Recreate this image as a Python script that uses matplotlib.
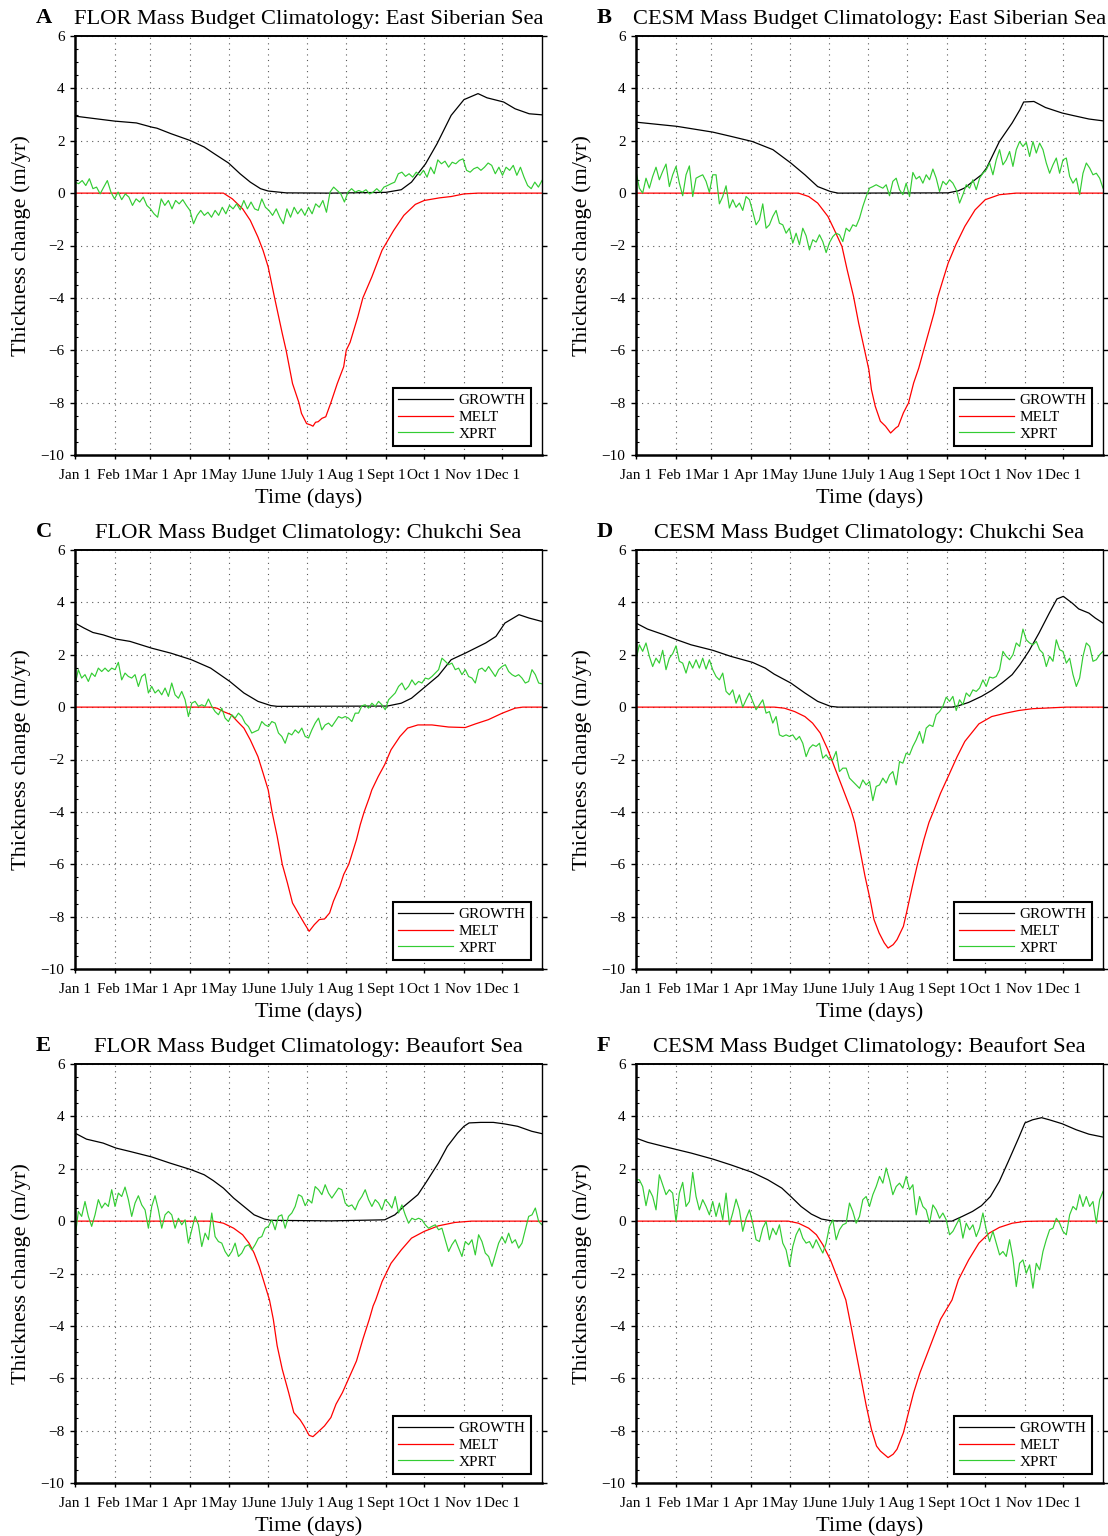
import numpy as np
import matplotlib
matplotlib.use("Agg")
import matplotlib.pyplot as plt
from matplotlib.ticker import MultipleLocator

plt.rcParams['font.family'] = ['Liberation Serif', 'DejaVu Serif']

# ---------------- data ----------------
MONTH_DAYS = [0, 31, 59, 90, 120, 151, 181, 212, 243, 273, 304, 334]
MONTH_LABELS = ['Jan 1', 'Feb 1', 'Mar 1', 'Apr 1', 'May 1', 'June 1', 'July 1',
                'Aug 1', 'Sept 1', 'Oct 1', 'Nov 1', 'Dec 1']
PANEL_LETTERS = ['A', 'B', 'C', 'D', 'E', 'F']
PANEL_TITLES = ['FLOR Mass Budget Climatology: East Siberian Sea',
                'CESM Mass Budget Climatology: East Siberian Sea',
                'FLOR Mass Budget Climatology: Chukchi Sea',
                'CESM Mass Budget Climatology: Chukchi Sea',
                'FLOR Mass Budget Climatology: Beaufort Sea',
                'CESM Mass Budget Climatology: Beaufort Sea']
SERIES_NAMES = ['GROWTH', 'MELT', 'XPRT']

# Panel A: FLOR East Siberian Sea
A_GROWTH_DAY = [0, 31, 48, 60, 64, 75, 90, 101, 109, 120, 129, 137, 145, 151, 165, 200, 243, 255,
                263, 274, 283, 294, 304, 315, 322, 335, 344, 355, 365]
A_GROWTH = [2.94, 2.75, 2.68, 2.52, 2.48, 2.27, 2.01, 1.76, 1.50, 1.15, 0.74, 0.42, 0.17, 0.08, 0.01,
            0.0, 0.03, 0.13, 0.42, 1.12, 1.89, 2.97, 3.57, 3.80, 3.64, 3.48, 3.22, 3.03, 2.99]
A_MELT_DAY = [0, 116, 123, 131, 137, 143, 147, 151, 156, 162, 165, 170, 175, 177, 181, 184, 186, 188,
              190, 193, 196, 200, 205, 210, 212, 215, 221, 225, 232, 240, 249, 257, 266, 273, 285,
              294, 304, 315, 365]
A_MELT = [0, 0, -0.22, -0.60, -1.04, -1.68, -2.19, -2.82, -4.0, -5.36, -6.0, -7.27, -8.0, -8.41, -8.8,
          -8.85, -8.9, -8.75, -8.73, -8.6, -8.54, -8.0, -7.27, -6.63, -6.0, -5.7, -4.73, -4.0, -3.2,
          -2.18, -1.43, -0.85, -0.43, -0.28, -0.18, -0.13, -0.03, 0, 0]
A_XPRT = [0.42, 0.36, 0.48, 0.29, 0.55, 0.17, 0.23, -0.03, 0.23, 0.48,
          0.04, -0.22, 0.04, -0.25, -0.03, -0.15, -0.47, -0.22, -0.34, -0.15,
          -0.47, -0.60, -0.79, -0.92, -0.22, -0.47, -0.28, -0.60, -0.28, -0.41,
          -0.25, -0.47, -0.66, -1.17, -0.85, -0.66, -0.85, -0.73, -0.92, -0.66,
          -0.85, -0.54, -0.79, -0.47, -0.60, -0.41, -0.64, -0.28, -0.60, -0.34,
          -0.60, -0.66, -0.22, -0.54, -0.66, -0.85, -0.60, -0.92, -1.17, -0.60,
          -0.92, -0.54, -0.79, -0.60, -0.85, -0.54, -0.79, -0.41, -0.54, -0.28,
          -0.73, 0.04, 0.23, 0.10, -0.03, -0.34, 0.04, 0.17, 0.04, 0.10,
          0.04, 0.13, -0.03, 0.04, 0.17, 0.04, 0.23, 0.29, 0.36, 0.42,
          0.74, 0.80, 0.64, 0.74, 0.61, 0.80, 0.68, 0.87, 0.61, 0.99,
          0.74, 1.27, 1.12, 1.22, 0.99, 1.18, 1.12, 1.25, 1.31, 0.87,
          0.80, 0.93, 0.99, 0.87, 0.99, 1.15, 1.06, 0.74, 0.99, 0.68,
          0.99, 0.87, 1.06, 0.68, 0.99, 0.61, 0.29, 0.17, 0.42, 0.23,
          0.48]

# Panel B: CESM East Siberian Sea
B_GROWTH_DAY = [0, 32, 60, 74, 91, 107, 121, 132, 142, 152, 158, 244, 252, 257, 260, 270, 274, 284,
                294, 300, 303, 311, 320, 333, 341, 354, 365]
B_GROWTH = [2.71, 2.55, 2.33, 2.17, 1.97, 1.66, 1.15, 0.70, 0.25, 0.06, 0.0, 0.01, 0.09, 0.20, 0.32,
            0.70, 0.96, 1.97, 2.68, 3.18, 3.48, 3.50, 3.27, 3.06, 2.97, 2.83, 2.76]
B_MELT_DAY = [0, 127, 135, 142, 150, 155, 161, 165, 170, 174, 178, 182, 184, 187, 191, 195, 199, 203,
              205, 209, 213, 217, 221, 225, 229, 233, 236, 240, 244, 250, 257, 265, 273, 284, 297, 365]
B_MELT = [0, 0, -0.13, -0.38, -0.89, -1.40, -2.04, -2.92, -3.94, -4.96, -5.85, -6.74, -7.5, -8.14,
          -8.71, -8.9, -9.16, -8.97, -8.9, -8.39, -8.01, -7.25, -6.68, -5.97, -5.27, -4.57, -3.94,
          -3.30, -2.67, -1.97, -1.27, -0.64, -0.25, -0.06, 0, 0]
B_XPRT = [0.83, 0.19, 0.00, 0.57, 0.19, 0.64, 0.99, 0.51, 0.83, 1.11,
          0.25, 0.70, 1.02, 0.38, -0.10, 0.70, 1.04, -0.13, 0.57, 0.64,
          0.70, 0.45, 0.03, 0.70, 0.70, -0.41, -0.13, 0.28, -0.57,
          -0.25, -0.54, -0.38, -0.66, -0.13, -0.25, -0.70, -1.21, -1.02, -0.41,
          -1.34, -1.21, -0.89, -0.66, -1.15, -1.21, -1.53, -1.34, -1.91, -1.53,
          -1.97, -1.34, -1.63, -2.17, -1.78, -1.87, -1.59, -1.85, -2.27, -1.89,
          -1.66, -1.53, -1.59, -1.85, -1.34, -1.46, -1.21, -1.27, -0.96, -0.51,
          -0.13, 0.19, 0.25, 0.32, 0.25, 0.19, 0.32, -0.10, 0.45, 0.57,
          0.13, -0.06, 0.38, -0.13, 0.79, 0.54, 0.64, 0.38, 0.70, 0.51,
          0.92, 0.57, 0.06, 0.45, 0.32, 0.51, 0.38, 0.13, -0.38, -0.06,
          0.32, 0.19, 0.51, 0.13, 0.57, 0.76, 0.89, 1.15, 0.70, 1.27,
          1.66, 1.08, 1.27, 1.59, 1.02, 1.66, 1.97, 1.78, 1.94, 1.40,
          1.97, 1.53, 1.91, 1.66, 1.15, 0.76, 1.08, 1.34, 0.76, 1.27,
          1.34, 0.64, 0.38, 0.57, -0.06, 0.76, 1.15, 0.96, 0.70, 0.76,
          0.57, 0.19]

# Panel C: FLOR Chukchi Sea
C_GROWTH_DAY = [0, 7, 14, 22, 32, 43, 60, 75, 91, 106, 121, 132, 143, 153, 158, 244, 255, 263, 274,
                284, 294, 305, 321, 329, 336, 347, 355, 365]
C_GROWTH = [3.21, 3.02, 2.85, 2.76, 2.60, 2.51, 2.25, 2.06, 1.81, 1.49, 0.98, 0.54, 0.22, 0.06, 0.03,
            0.04, 0.15, 0.34, 0.79, 1.20, 1.81, 2.06, 2.45, 2.70, 3.21, 3.53, 3.40, 3.27]
C_MELT_DAY = [0, 106, 111, 116, 122, 127, 132, 137, 143, 147, 151, 154, 158, 162, 166, 170, 176, 179,
              183, 187, 191, 195, 199, 202, 207, 210, 214, 220, 223, 226, 230, 232, 237, 242, 247,
              254, 260, 268, 279, 292, 305, 313, 323, 334, 344, 350, 365]
C_MELT = [0, 0, -0.04, -0.17, -0.29, -0.55, -0.80, -1.25, -1.89, -2.52, -3.16, -4.0, -4.93, -6.0,
          -6.71, -7.48, -7.99, -8.24, -8.56, -8.31, -8.11, -8.09, -7.86, -7.41, -6.84, -6.39, -6.0,
          -5.06, -4.48, -4.0, -3.46, -3.16, -2.65, -2.2, -1.63, -1.12, -0.80, -0.68, -0.68, -0.76,
          -0.78, -0.64, -0.48, -0.23, -0.04, 0, 0]
C_XPRT = [0.85, 1.43, 1.11, 1.24, 0.98, 1.30, 1.17, 1.49, 1.36, 1.49,
          1.36, 1.49, 1.43, 1.71, 1.04, 1.30, 1.17, 1.11, 1.24, 0.79,
          1.17, 1.27, 0.54, 0.79, 0.54, 0.66, 0.47, 0.73, 0.41, 0.92,
          0.47, 0.34, 0.60, 0.28, -0.36, 0.15, 0.22, 0.03, 0.09, 0.03,
          0.31, 0.03, -0.17, -0.29, -0.04, -0.42, -0.55, -0.29, -0.42, -0.23,
          -0.36, -0.61, -0.74, -0.99, -0.93, -0.87, -0.55, -0.68, -0.74, -0.55,
          -0.61, -0.99, -1.12, -1.38, -0.99, -1.06, -0.87, -0.99, -0.80, -1.12,
          -1.18, -0.87, -0.61, -0.42, -0.87, -0.68, -0.61, -0.74, -0.55, -0.36,
          -0.42, -0.36, -0.42, -0.55, -0.23, -0.23, 0.05, 0.09, -0.04, 0.15,
          0.03, 0.22, 0.09, -0.10, 0.28, 0.41, 0.54, 0.79, 0.92, 0.66,
          0.79, 1.04, 0.85, 0.98, 0.92, 1.11, 1.07, 1.17, 1.30, 1.43,
          1.87, 1.75, 1.62, 1.68, 1.43, 1.49, 1.24, 1.43, 1.17, 1.11,
          0.92, 1.43, 1.49, 1.36, 1.55, 1.36, 1.17, 1.43, 1.55, 1.62,
          1.36, 1.24, 1.17, 1.24, 1.11, 0.92, 0.98, 1.43, 1.24, 0.92,
          0.89]

# Panel D: CESM Chukchi Sea
D_GROWTH_DAY = [0, 9, 22, 32, 43, 60, 74, 91, 101, 108, 121, 132, 142, 152, 158, 247, 252, 260, 270,
                278, 286, 294, 300, 307, 315, 323, 329, 334, 341, 346, 354, 359, 365]
D_GROWTH = [3.21, 2.98, 2.76, 2.57, 2.38, 2.17, 1.94, 1.71, 1.49, 1.26, 0.92, 0.54, 0.22, 0.03, 0.0,
            0.0, 0.05, 0.18, 0.41, 0.64, 0.92, 1.24, 1.62, 2.13, 2.83, 3.59, 4.13, 4.23, 3.97, 3.75,
            3.59, 3.40, 3.21]
D_MELT_DAY = [0, 108, 116, 124, 132, 138, 144, 150, 155, 161, 165, 168, 171, 175, 179, 183, 186, 190,
              194, 197, 201, 204, 209, 212, 216, 220, 225, 229, 233, 238, 244, 251, 257, 268, 278,
              289, 299, 310, 323, 336, 365]
D_MELT = [0, 0, -0.04, -0.17, -0.36, -0.61, -0.99, -1.63, -2.27, -3.03, -3.54, -3.92, -4.42, -5.44,
          -6.46, -7.35, -8.11, -8.62, -9.0, -9.2, -9.07, -8.88, -8.37, -7.73, -6.84, -6.0, -5.06,
          -4.4, -3.92, -3.29, -2.65, -1.89, -1.31, -0.64, -0.36, -0.23, -0.13, -0.06, -0.03, 0, 0]
D_XPRT = [1.81, 2.38, 2.13, 2.45, 1.94, 1.55, 1.87, 1.68, 2.17, 1.43,
          1.87, 2.04, 2.34, 1.75, 1.68, 1.30, 1.75, 1.49, 1.81, 1.49,
          1.87, 1.45, 1.81, 1.43, 1.17, 1.04, 1.30, 0.60, 0.47, 0.66,
          0.15, 0.47, 0.00, 0.28, 0.54, 0.22, -0.10, 0.09, 0.28, -0.23,
          -0.17, -0.61, -0.36, -1.06, -1.12, -1.06, -1.12, -1.06, -1.25, -1.12,
          -1.38, -1.89, -1.57, -1.44, -1.50, -1.38, -1.95, -1.82, -2.01, -2.01,
          -1.69, -2.46, -2.33, -2.33, -2.71, -2.84, -2.97, -3.10, -2.78, -2.97,
          -2.84, -3.57, -3.03, -2.97, -2.71, -2.90, -2.59, -2.46, -2.97, -2.08,
          -2.14, -1.76, -1.82, -1.50, -1.25, -0.93, -1.38, -0.80, -0.68, -0.74,
          -0.29, -0.17, 0.03, 0.38, 0.22, 0.41, -0.13, 0.28, 0.09, 0.54,
          0.41, 0.66, 0.60, 0.73, 1.04, 0.79, 1.15, 1.11, 1.17, 1.43,
          2.13, 1.94, 1.81, 2.00, 2.45, 2.32, 2.98, 2.57, 2.45, 2.38,
          2.51, 2.19, 2.06, 1.55, 1.94, 1.75, 2.57, 2.19, 2.13, 1.68,
          1.87, 1.24, 0.79, 1.11, 1.94, 2.45, 2.32, 1.75, 1.81, 2.00,
          2.13]

# Panel E: FLOR Beaufort Sea
E_GROWTH_DAY = [0, 9, 22, 32, 43, 60, 74, 91, 101, 108, 116, 124, 132, 140, 148, 153, 200, 242, 250,
                257, 268, 274, 284, 291, 299, 304, 308, 317, 327, 336, 346, 357, 365]
E_GROWTH = [3.36, 3.13, 2.98, 2.79, 2.66, 2.45, 2.22, 1.96, 1.77, 1.55, 1.26, 0.88, 0.56, 0.24, 0.08,
            0.03, 0.01, 0.05, 0.24, 0.56, 1.01, 1.45, 2.22, 2.85, 3.36, 3.62, 3.75, 3.77, 3.77, 3.71,
            3.62, 3.43, 3.34]
E_MELT_DAY = [0, 108, 116, 124, 131, 136, 140, 144, 148, 152, 155, 158, 162, 167, 171, 176, 179, 183,
              186, 190, 195, 200, 204, 209, 214, 220, 225, 230, 233, 235, 240, 247, 255, 263, 273,
              284, 297, 310, 365]
E_MELT = [0, 0, -0.08, -0.27, -0.52, -0.84, -1.22, -1.73, -2.37, -3.01, -3.75, -4.76, -5.66, -6.55,
          -7.31, -7.59, -7.82, -8.18, -8.23, -8.05, -7.82, -7.50, -6.99, -6.55, -6.0, -5.34, -4.51,
          -3.75, -3.24, -3.01, -2.31, -1.61, -1.10, -0.65, -0.39, -0.18, -0.05, 0, 0]
E_XPRT = [-0.65, 0.37, 0.18, 0.75, 0.18, -0.20, 0.24, 0.82, 0.50, 0.69,
          0.56, 1.20, 0.56, 1.07, 0.94, 1.30, 0.82, 0.18, 0.69, 0.97,
          0.62, 0.43, -0.27, 0.56, 0.97, 0.43, -0.27, 0.24, 0.37, 0.24,
          -0.27, 0.11, -0.14, 0.05, -0.84, -0.33, 0.18, -0.14, -0.97, -0.46,
          -0.71, 0.31, -0.59, -0.78, -0.84, -1.16, -1.35, -1.16, -0.84, -1.35,
          -1.22, -0.97, -0.90, -1.10, -0.90, -0.65, -0.59, -0.27, -0.20, 0.05,
          -0.33, 0.18, 0.24, -0.27, 0.18, 0.31, 0.56, 1.01, 0.94, 0.59,
          0.82, 0.69, 1.32, 1.20, 1.01, 1.39, 1.07, 0.88, 1.07, 1.26,
          1.20, 0.69, 0.56, 0.62, 0.43, 0.75, 0.94, 1.20, 0.82, 0.56,
          0.82, 0.69, 0.43, 0.82, 0.69, 0.50, 0.94, 0.31, 0.62, 0.24,
          -0.08, 0.11, 0.05, 0.11, 0.05, -0.14, -0.27, -0.20, -0.14, -0.33,
          -0.27, -0.71, -1.16, -0.90, -0.71, -1.03, -1.35, -0.78, -0.90, -0.71,
          -1.29, -0.52, -0.78, -1.22, -1.35, -1.73, -1.29, -0.84, -0.59, -0.84,
          -0.46, -0.84, -0.71, -1.03, -0.84, -0.33, 0.18, 0.24, 0.50, -0.01,
          -0.14]

# Panel F: CESM Beaufort Sea
F_GROWTH_DAY = [0, 9, 22, 32, 43, 60, 74, 91, 103, 114, 121, 129, 137, 145, 153, 200, 247, 255, 263,
                270, 277, 284, 291, 299, 304, 310, 317, 323, 333, 344, 354, 365]
F_GROWTH = [3.17, 3.01, 2.85, 2.73, 2.60, 2.37, 2.15, 1.86, 1.58, 1.26, 0.94, 0.56, 0.27, 0.08, 0.01,
            0.0, 0.0, 0.18, 0.37, 0.59, 0.94, 1.52, 2.28, 3.17, 3.75, 3.87, 3.95, 3.87, 3.72, 3.49,
            3.32, 3.21]
F_MELT_DAY = [0, 119, 127, 135, 141, 146, 152, 157, 161, 164, 168, 172, 176, 180, 184, 188, 191, 197,
              201, 204, 209, 213, 217, 222, 228, 233, 238, 247, 252, 260, 268, 276, 284, 294, 304,
              315, 365]
F_MELT = [0, 0, -0.08, -0.27, -0.52, -0.90, -1.48, -2.11, -2.62, -3.01, -4.0, -5.02, -6.04, -7.06,
          -7.95, -8.59, -8.78, -9.03, -8.9, -8.71, -8.08, -7.31, -6.55, -5.78, -5.02, -4.38, -3.75,
          -3.01, -2.24, -1.48, -0.84, -0.46, -0.24, -0.08, -0.01, 0, 0]
F_XPRT = [1.58, 1.58, 1.32, 0.59, 1.20, 0.94, 0.43, 1.77, 1.39, 1.01,
          1.20, 1.07, -0.01, 1.07, 1.48, 0.56, 0.75, 1.86, 0.94, 0.43,
          0.82, 0.56, 0.24, 0.75, 0.18, 0.69, 0.05, 1.07, -0.14, 0.31,
          0.84, 0.43, -0.39, 0.11, 0.43, -0.08, -0.71, -0.78, -0.27, -0.01,
          -0.71, -0.27, -0.52, -0.14, -0.84, -1.10, -1.73, -0.97, -0.52, -0.27,
          -0.65, -0.84, -0.78, -1.03, -0.71, -0.97, -1.22, -0.84, -0.20, 0.05,
          -0.71, -0.33, -0.14, -0.08, 0.69, 0.37, -0.08, 0.18, 0.82, 0.94,
          0.56, 1.01, 1.32, 1.71, 1.45, 2.03, 1.58, 1.01, 1.32, 1.45,
          1.26, 1.71, 1.20, 1.39, 0.24, 0.94, 0.56, 0.43, -0.08, 0.62,
          0.43, 0.11, 0.31, 0.05, -0.52, -0.39, -0.14, 0.11, -0.65, -0.08,
          -0.33, -0.14, -0.59, -0.27, 0.31, -0.33, -0.78, -0.39, -0.84, -1.29,
          -1.16, -1.35, -0.71, -1.41, -2.50, -1.61, -1.48, -1.99, -1.67, -2.56,
          -1.61, -1.86, -1.16, -0.71, -0.33, -0.27, 0.11, -0.08, -0.39, -0.52,
          0.24, 0.56, 0.43, 1.01, 0.56, 0.94, 0.56, 0.75, -0.08, 0.82,
          1.13]

PANELS = [
    (A_GROWTH_DAY, A_GROWTH, A_MELT_DAY, A_MELT, A_XPRT),
    (B_GROWTH_DAY, B_GROWTH, B_MELT_DAY, B_MELT, B_XPRT),
    (C_GROWTH_DAY, C_GROWTH, C_MELT_DAY, C_MELT, C_XPRT),
    (D_GROWTH_DAY, D_GROWTH, D_MELT_DAY, D_MELT, D_XPRT),
    (E_GROWTH_DAY, E_GROWTH, E_MELT_DAY, E_MELT, E_XPRT),
    (F_GROWTH_DAY, F_GROWTH, F_MELT_DAY, F_MELT, F_XPRT),
]

# ---------------- layout / style ----------------
W, H = 1108, 1536
COL_LEFT = [75, 636]
ROW_TOP = [36, 550, 1064]
AX_W, AX_H = 467, 419
C_GROWTH, C_MELT, C_XPRT = '#000000', '#ff0000', '#33cc33'

fig = plt.figure(figsize=(W / 100, H / 100), dpi=100)
fig.patch.set_facecolor('white')

for i, (gd, gv, md, mv, xv) in enumerate(PANELS):
    r, c = divmod(i, 2)
    l, t = COL_LEFT[c], ROW_TOP[r]
    ax = fig.add_axes([l / W, 1 - (t + AX_H) / H, AX_W / W, AX_H / H])

    ax.plot(gd, gv, color=C_GROWTH, lw=0.9, label=SERIES_NAMES[0])
    ax.plot(md, mv, color=C_MELT, lw=0.9, label=SERIES_NAMES[1])
    xd = np.linspace(0, 365, len(xv))
    ax.plot(xd, xv, color=C_XPRT, lw=0.85, label=SERIES_NAMES[2])

    ax.set_xlim(0, 365)
    ax.set_ylim(-10, 6)
    ax.set_xticks(MONTH_DAYS)
    ax.set_xticklabels(MONTH_LABELS)
    ax.set_yticks(np.arange(-10, 7, 2))
    ax.yaxis.set_minor_locator(MultipleLocator(0.5))

    ax.grid(True, which='major', linestyle=(0, (1, 4)), color='0.35', lw=0.8)

    ax.spines['left'].set_linewidth(1.8)
    ax.spines['bottom'].set_linewidth(1.8)
    ax.spines['top'].set_linewidth(1.4)
    ax.spines['right'].set_linewidth(1.0)

    ax.tick_params(axis='y', which='major', direction='out', length=3.5, width=1.0,
                   left=True, right=True, labelsize=11, pad=4)
    ax.tick_params(axis='y', which='minor', direction='in', length=2.5, width=0.8,
                   left=True, right=False)
    ax.tick_params(axis='x', which='major', direction='out', length=3, width=1.0,
                   bottom=True, top=False, labelsize=11, pad=7)

    ax.set_ylabel('Thickness change (m/yr)', fontsize=16)
    ax.yaxis.set_label_coords(-0.094, 0.5)
    ax.set_xlabel('Time (days)', fontsize=16)
    ax.xaxis.set_label_coords(0.5, -0.080)

    ax.set_title(PANEL_TITLES[i], fontsize=16.2, pad=8.6)
    ax.text(-0.0835, 1 + 13 / AX_H, PANEL_LETTERS[i], transform=ax.transAxes,
            fontsize=16.2, fontweight='bold', ha='left', va='baseline')

    leg = ax.legend(loc='lower right', bbox_to_anchor=(0.976, 0.0215), fontsize=11,
                    frameon=True, fancybox=False, shadow=False, framealpha=1,
                    edgecolor='black', handlelength=3.6, handletextpad=0.35,
                    labelspacing=0.2, borderpad=0.35, borderaxespad=0)
    leg.get_frame().set_linewidth(1.5)

fig.savefig('out.png', dpi=100, facecolor='white')
